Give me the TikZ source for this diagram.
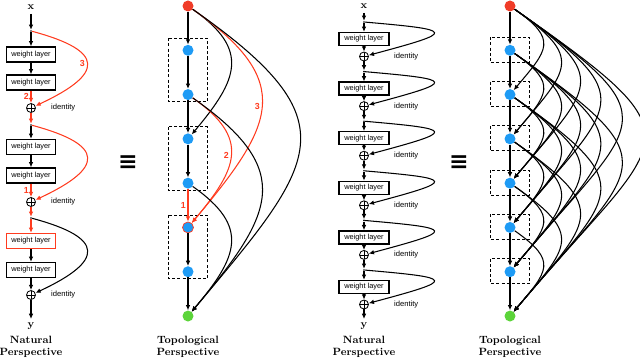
\documentclass[tikz,border=0pt]{standalone}
\usepackage{fontspec}
\usepackage{tikz}
\usetikzlibrary{arrows.meta,positioning,calc}
\newfontfamily\helv{Liberation Sans}
\newfontfamily\symfont{DejaVu Sans}
\definecolor{redline}{HTML}{FF3B1F}
\definecolor{inred}{HTML}{F03C28}
\definecolor{hidblue}{HTML}{1E9BF5}
\definecolor{outgreen}{HTML}{5CD43A}
\tikzset{
  layer/.style={draw, line width=1.1pt, fill=white, minimum width=14.7mm, minimum height=4.5mm, inner sep=0pt, font=\helv\fontsize{6.3}{7}\selectfont},
  layerthin/.style={layer, minimum width=15mm, minimum height=3.9mm},
  plus/.style={circle, draw, line width=0.7pt, fill=white, minimum size=2.7mm, inner sep=0pt,
    path picture={\draw[line width=0.6pt] (path picture bounding box.north) -- (path picture bounding box.south) (path picture bounding box.west) -- (path picture bounding box.east);}},
  split/.style={circle, fill, minimum size=1.6pt, inner sep=0pt},
  varlab/.style={font=\bfseries\fontsize{9}{9}\selectfont},
  caption/.style={align=center, font=\bfseries\fontsize{9}{10.5}\selectfont},
  idlab/.style={inner sep=0pt, font=\helv\fontsize{6.5}{7}\selectfont},
  numlab/.style={text=redline, inner sep=1.5pt, font=\helv\bfseries\fontsize{7.5}{8}\selectfont},
  equivsign/.style={inner sep=0pt, font=\symfont\bfseries\fontsize{20}{20}\selectfont},
  unit/.style={circle, minimum size=3.3mm, inner sep=0pt},
  innode/.style={unit, fill=inred},
  hidnode/.style={unit, fill=hidblue},
  outnode/.style={unit, fill=outgreen},
  dbox/.style={dash pattern=on 2.6pt off 1.8pt, line width=1pt},
  arrow/.style={-{Latex[length=4.5pt,width=4pt]}, line width=0.9pt},
  redarrow/.style={arrow, draw=redline}
}

\begin{document}
\begin{tikzpicture}[x=0.3mm, y=0.3mm]
  \useasboundingbox (0,0) rectangle (640,359);

  \node[varlab, anchor=south] (xa) at (31,345) {x};
  \node[split] (sa1) at (31,328) {};
  \node[layer] (la1) at (31,304.5) {weight layer};
  \node[layer] (la2) at (31,276.5) {weight layer};
  \node[plus] (pa1) at (31,251) {};
  \node[idlab, right=4.5mm of pa1] {identity};
  \node[split] (sa2) at (31,234) {};
  \node[layer] (la3) at (31,212) {weight layer};
  \node[layer] (la4) at (31,183.5) {weight layer};
  \node[plus] (pa2) at (31,157) {};
  \node[idlab, right=4.5mm of pa2] {identity};
  \node[split] (sa3) at (31,141) {};
  \node[layer, draw=redline] (la5) at (31,118) {weight layer};
  \node[layer] (la6) at (31,89) {weight layer};
  \node[plus] (pa3) at (31,64) {};
  \node[idlab, right=4.5mm of pa3] {identity};
  \node[varlab, anchor=north] (ya) at (31,40) {y};
  \node[caption] at (31,12) {Natural\\Perspective};

  \draw[arrow] (xa) -- (sa1);
  \draw[arrow] (sa1) -- (la1);
  \draw[arrow] (la1) -- (la2);
  \draw[redarrow] (la2) -- node[numlab, left] {2} (pa1);
  \draw[redarrow] (sa1) to[out=-15, in=25, looseness=2.6] node[numlab, pos=0.5, left] {3} (pa1);
  \draw[redarrow] (pa1) -- (sa2);
  \draw[arrow] (sa2) -- (la3);
  \draw[arrow] (la3) -- (la4);
  \draw[redarrow] (la4) -- node[numlab, left] {1} (pa2);
  \draw[redarrow] (sa2) to[out=-15, in=25, looseness=2.6] (pa2);
  \draw[redarrow] (pa2) -- (sa3);
  \draw[redarrow] (sa3) -- (la5);
  \draw[arrow] (la5) -- (la6);
  \draw[arrow] (la6) -- (pa3);
  \draw[arrow] (sa3) to[out=-15, in=25, looseness=2.6] (pa3);
  \draw[arrow] (pa3) -- (ya);

  \node[equivsign] (eqa) at (128,196) {≡};

  \node[innode] (p0) at (188,353) {};
  \node[hidnode] (p1) at (188,308.71) {};
  \node[hidnode] (p2) at (188,264.42) {};
  \node[hidnode] (p3) at (188,220.13) {};
  \node[hidnode] (p4) at (188,175.84) {};
  \node[hidnode, draw=redline, line width=0.6pt] (p5) at (188,131.55) {};
  \node[hidnode] (p6) at (188,87.26) {};
  \node[outnode] (p7) at (188,42.97) {};
  \node[caption] at (188,12) {Topological\\Perspective};

  \foreach \a/\b in {p1/p2,p3/p4,p5/p6}
    \draw[dbox] ($(\a)+(-19.5,12)$) rectangle ($(\b)+(19.5,-7)$);

  \draw[arrow] (p0) -- (p1);
  \draw[arrow] (p1) -- (p2);
  \draw[arrow] (p2) -- (p3);
  \draw[arrow] (p3) -- (p4);
  \draw[redarrow] (p4) -- node[numlab, left] {1} (p5);
  \draw[arrow] (p5) -- (p6);
  \draw[arrow] (p6) -- (p7);
  \draw[arrow] (p0) to[out=-35, in=50, looseness=1.45] (p3);
  \draw[redarrow] (p0) to[out=-35, in=50, looseness=1.52] node[numlab, pos=0.5, left] {3} (p5);
  \draw[arrow] (p0) to[out=-35, in=50, looseness=1.66] (p7);
  \draw[redarrow] (p2) to[out=-35, in=50, looseness=1.45] node[numlab, pos=0.5, left] {2} (p5);
  \draw[arrow] (p2) to[out=-35, in=50, looseness=1.52] (p7);
  \draw[arrow] (p4) to[out=-35, in=50, looseness=1.45] (p7);

  \node[varlab, anchor=south] (xb) at (364,346) {x};
  \foreach \k in {0,...,5}{
    \pgfmathsetmacro\ys{337-49.6*\k}
    \node[split] (sb\k) at (364,\ys) {};
    \node[layerthin] (lb\k) at (364,\ys-17) {weight layer};
    \node[plus] (pb\k) at (364,\ys-34.5) {};
    \node[idlab, right=7.5mm of pb\k] {identity};
  }
  \node[varlab, anchor=north] (yb) at (364,40) {y};
  \node[caption] at (364,12) {Natural\\Perspective};

  \draw[arrow] (xb) -- (sb0);
  \foreach \k in {0,...,5}{
    \draw[arrow] (sb\k) -- (lb\k);
    \draw[arrow] (lb\k) -- (pb\k);
    \draw[arrow] (sb\k) to[out=-5, in=15, looseness=7] (pb\k);
  }
  \foreach \k [count=\m from 1] in {0,...,4}
    \draw[arrow] (pb\k) -- (sb\m);
  \draw[arrow] (pb5) -- (yb);

  \node[equivsign] (eqb) at (459,196) {≡};

  \node[innode] (d0) at (510,353) {};
  \foreach \i in {1,...,6}{
    \node[hidnode] (d\i) at (510,353-44.29*\i) {};
    \draw[dbox] ($(d\i)+(-19.5,13)$) rectangle ($(d\i)+(19.5,-12)$);
  }
  \node[outnode] (d7) at (510,42.97) {};
  \node[caption] at (510,12) {Topological\\Perspective};

  \foreach \i [count=\j from 1] in {0,...,6}
    \draw[arrow] (d\i) -- (d\j);
  \foreach \i in {0,...,5}{
    \pgfmathtruncatemacro\first{\i+2}
    \foreach \j in {\first,...,7}{
      \pgfmathsetmacro\loose{1.55+0.065*(\j-\i)}
      \draw[arrow] (d\i) to[out=-35, in=50, looseness=\loose] (d\j);
    }
  }
\end{tikzpicture}
\end{document}
